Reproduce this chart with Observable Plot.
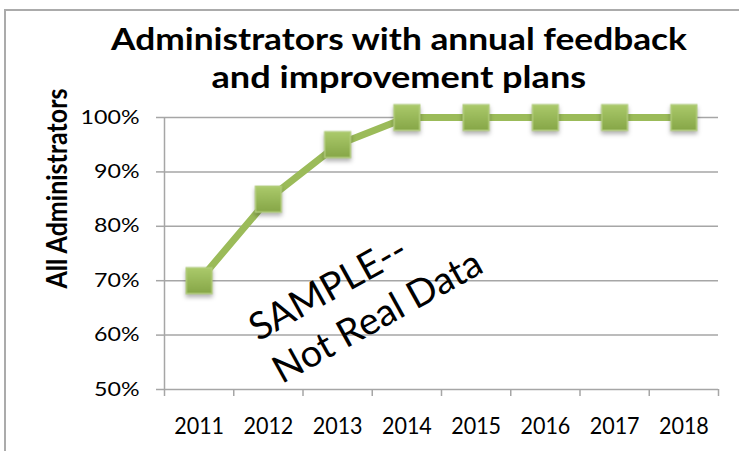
<!DOCTYPE html>
<html>
<head>
<meta charset="utf-8">
<script src="https://cdn.jsdelivr.net/npm/d3@7"></script>
<script src="https://cdn.jsdelivr.net/npm/@observablehq/plot@0.6"></script>
<style>
  html, body { margin: 0; padding: 0; background: #fff; }
  #wrap { position: relative; width: 739px; height: 451px; overflow: hidden; background: #fff; font-family: Lato, "Open Sans", sans-serif; }
  #border { position: absolute; left: 4px; top: 9px; width: 900px; height: 600px; border: 2px solid #ababab; box-sizing: border-box; }
  #title { position: absolute; left: 100px; width: 597px; top: 19px; text-align: center; font-weight: bold; font-size: 31px; line-height: 38px; color: #000; }
  #title span { display: inline-block; white-space: nowrap; transform-origin: 50% 50%; }
  #chart { position: absolute; left: 0; top: 0; }
</style>
</head>
<body>
<div id="wrap">
  <div id="border"></div>
  <div id="chart"></div>
  <div id="title"><span id="t1">Administrators with annual feedback</span><br><span id="t2">and improvement plans</span></div>
</div>
<script>
const years = ["2011", "2012", "2013", "2014", "2015", "2016", "2017", "2018"];
const values = [0.70, 0.85, 0.95, 1.00, 1.00, 1.00, 1.00, 1.00];
const yTicks = [0.5, 0.6, 0.7, 0.8, 0.9, 1.0];
const yLabel = "All Administrators";
const watermark = "SAMPLE--\nNot Real Data";

const data = years.map((year, i) => ({ year, i, value: values[i] }));
const centers = years.map((_, i) => i + 0.5);
const bounds = d3.range(years.length + 1);

const gray = "#a6a6a6";
const green = "#9bbb59";

const svg = Plot.plot({
  width: 739,
  height: 451,
  marginTop: 117,
  marginBottom: 62,
  marginLeft: 164,
  marginRight: 21,
  style: { fontFamily: "Lato, 'Open Sans', sans-serif", color: "#000", background: "transparent", overflow: "visible" },
  x: { domain: [0, years.length], axis: null },
  y: { domain: [0.5, 1], axis: null },
  marks: [
    Plot.gridY(yTicks, { stroke: gray, strokeOpacity: 1, strokeWidth: 1.5 }),
    Plot.ruleX([0], { y1: 0.5, y2: 1, stroke: gray, strokeWidth: 1.5 }),
    Plot.axisY(yTicks, {
      anchor: "left", label: null, tickSize: 8, tickPadding: 17, stroke: gray, strokeWidth: 1.5,
      tickFormat: d3.format(".0%"), fontSize: 19
    }),
    Plot.axisX(bounds, { anchor: "bottom", label: null, tickSize: 7, stroke: gray, strokeWidth: 1.5, tickFormat: () => "" }),
    Plot.axisX(centers, {
      anchor: "bottom", label: null, tickSize: 0, tickPadding: 27,
      tickFormat: (d) => years[Math.floor(d)], fontSize: 24
    }),
    Plot.text([yLabel], {
      frameAnchor: "left", dx: -106, dy: -65, rotate: -90, textAnchor: "middle",
      fontWeight: "bold", fontSize: 28, fill: "#000"
    }),
    Plot.text([watermark], {
      frameAnchor: "top-left", dx: 77, dy: 194, rotate: -29,
      textAnchor: "start", lineAnchor: "top", lineHeight: 1.28,
      fontSize: 38, fill: "#000"
    }),
    Plot.line(data, { x: (d) => d.i + 0.5, y: "value", stroke: green, strokeWidth: 7 }),
    Plot.dot(data, {
      x: (d) => d.i + 0.5, y: "value", symbol: "square", r: 14.5,
      fill: "url(#markerGrad)", stroke: "#b2cd7c", strokeWidth: 1.5
    })
  ]
});

const defs = d3.select(svg).insert("defs", ":first-child");
const grad = defs.append("linearGradient").attr("id", "markerGrad").attr("x1", 0).attr("y1", 0).attr("x2", 0).attr("y2", 1);
grad.append("stop").attr("offset", "0%").attr("stop-color", "#abca6b");
grad.append("stop").attr("offset", "100%").attr("stop-color", "#86a647");
d3.select(svg).selectAll("g[aria-label=dot]").style("filter", "drop-shadow(0px 3px 2px rgba(0,0,0,0.3))");

document.getElementById("chart").appendChild(svg);

// Horizontal stretch of texts to match the reference's widths
function stretch(nodes, sx) {
  nodes.forEach((n) => {
    const t = n.getAttribute("transform") || "";
    n.setAttribute("transform", t + ` scale(${sx},1)`);
  });
}
const allText = Array.from(svg.querySelectorAll("text"));
const yTickTexts = allText.filter((n) => /^\d+%$/.test(n.textContent));
const hundred = yTickTexts.find((n) => n.textContent === "100%");
if (hundred) stretch(yTickTexts, 59 / hundred.getComputedTextLength());
const xTexts = allText.filter((n) => years.includes(n.textContent));
if (xTexts.length) stretch(xTexts, 50 / xTexts[0].getComputedTextLength());
const yl = allText.find((n) => n.textContent === yLabel);
if (yl) stretch([yl], 200 / yl.getComputedTextLength());

const t1 = document.getElementById("t1"), t2 = document.getElementById("t2");
t1.style.transform = `scaleX(${576 / t1.offsetWidth})`;
t2.style.transform = `scaleX(${375 / t2.offsetWidth})`;
</script>
</body>
</html>
